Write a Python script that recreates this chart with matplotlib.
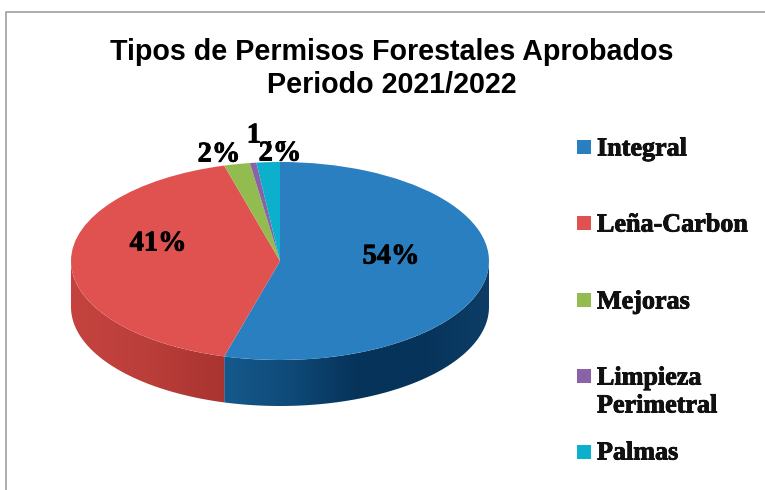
import numpy as np
import matplotlib
matplotlib.use('Agg')
import matplotlib.pyplot as plt
import matplotlib.patheffects as pe
from matplotlib.patches import Rectangle, Polygon
from matplotlib.colors import LinearSegmentedColormap

W, H = 765, 490

categories = ['Integral', 'Leña-Carbon', 'Mejoras', 'Limpieza\nPerimetral', 'Palmas']
values = [54.3, 41.4, 2.0, 0.5, 1.8]
pct_labels = ['54%', '41%', '2%', '1%', '2%']
colors = ['#2a7fc1', '#df5250', '#92bc50', '#8a62a8', '#0cb0cd']
# side wall shades, left to right
side_shades = [['#15598c', '#0f4a78', '#06335a', '#06335a', '#0d3d66'],
               ['#c4433f', '#bb3e3a', '#a83430'],
               ['#7a9c40', '#7a9c40'], ['#6a4a8a', '#6a4a8a'], ['#0a8aa0', '#0a8aa0']]

# pixel layout
cx, cy = 280, 261
rx, ry = 209, 99
depth = 46


def px(x, y):
    # pixel coords (from top left) to data coords of the pie
    return (x - cx) / rx, (cy - y) / ry


fig = plt.figure(figsize=(W / 100, H / 100), dpi=100, facecolor='white')
ax = fig.add_axes([0, 0, 1, 1])
wedges, _ = ax.pie(values, colors=colors, startangle=90, counterclock=False,
                   radius=1, center=(0, 0), wedgeprops={'linewidth': 0})
for w in wedges:
    w.set_zorder(5)

# side wall of the disc, only the front half shows
d = depth / ry
edges = 90 - np.cumsum([0] + values) * 3.6
for i in range(len(values)):
    lo, hi = max(edges[i + 1], -180), min(edges[i], 0)
    if lo >= hi:
        continue
    t = np.radians(np.linspace(hi, lo, 120))
    xs = np.cos(t)
    ys = np.sin(t)
    outline = np.column_stack([np.r_[xs, xs[::-1]], np.r_[ys, ys[::-1] - d]])
    clip = Polygon(outline, transform=ax.transData, facecolor='none', edgecolor='none')
    ax.add_patch(clip)
    cmap = LinearSegmentedColormap.from_list('side', side_shades[i])
    grad = np.linspace(0, 1, 256).reshape(1, -1)
    im = ax.imshow(grad, cmap=cmap, aspect='auto', zorder=3, interpolation='bilinear',
                   extent=(xs.min(), xs.max(), -1 - d, 1))
    im.set_clip_path(clip)

ax.set_aspect('auto')
ax.set_xlim(-cx / rx, (W - cx) / rx)
ax.set_ylim((cy - H) / ry, cy / ry)
ax.axis('off')

# frame of the original chart box, cut by the image edge
ax.plot(*zip(px(5.5, H), px(5.5, 12), px(W, 12)), color='#a6a6a6', lw=1.3, zorder=1, clip_on=False)

title_font = ['Liberation Sans', 'DejaVu Sans']
label_font = ['Liberation Serif', 'DejaVu Serif']
heavy = [pe.withStroke(linewidth=0.6, foreground='black')]
ax.text(*px(392, 52), 'Tipos de Permisos Forestales Aprobados', family=title_font,
        fontweight='bold', fontsize=20.6, ha='center', va='center', color='black')
ax.text(*px(392, 85), 'Periodo 2021/2022', family=title_font,
        fontweight='bold', fontsize=20.6, ha='center', va='center', color='black')

label_pos = [(391, 257), (158, 244), (219, 155), (268, 136), (280, 154)]
label_z = [7, 7, 7, 6, 8]
for s, (x, y), z in zip(pct_labels, label_pos, label_z):
    ax.text(*px(x, y), s, family=label_font, fontweight='bold', fontsize=20.5,
            ha='center', va='center', color='black', zorder=z, path_effects=heavy)

# the 2% label box hides most of the 1% sign in the original
x0, y0 = px(260, 141)
x1, y1 = px(296, 122)
ax.add_patch(Rectangle((x0, y0), x1 - x0, y1 - y0, facecolor='white', edgecolor='none', zorder=7))

# legend
legend_y = [149, 225, 302, 392, 453]
square_y = [147, 223, 300, 376, 452]
for name, col, y, sy in zip(categories, colors, legend_y, square_y):
    x0, y0 = px(577, sy + 7)
    x1, y1 = px(591, sy - 7)
    ax.add_patch(Rectangle((x0, y0), x1 - x0, y1 - y0, facecolor=col, edgecolor='none', zorder=6))
    ax.text(*px(597, y), name, family=label_font, fontweight='bold', fontsize=18.8,
            ha='left', va='center', color='#111111', linespacing=1.27, zorder=6, path_effects=heavy)

fig.savefig('out.png', dpi=100)
plt.close(fig)
